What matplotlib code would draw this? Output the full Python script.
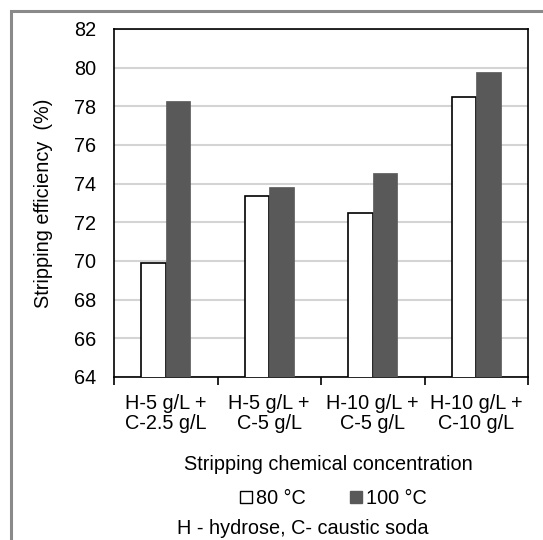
import matplotlib
matplotlib.use("Agg")
import matplotlib.pyplot as plt
import numpy as np
from matplotlib.lines import Line2D
from matplotlib.patches import Rectangle

categories = ["H-5 g/L +\nC-2.5 g/L", "H-5 g/L +\nC-5 g/L", "H-10 g/L +\nC-5 g/L", "H-10 g/L +\nC-10 g/L"]
series_names = ["80 °C", "100 °C"]
values_80 = [69.9, 73.37, 72.47, 78.5]
values_100 = [78.27, 73.82, 74.55, 79.8]
yticks = [64, 66, 68, 70, 72, 74, 76, 78, 80, 82]

plt.rcParams['font.family'] = ['Liberation Sans', 'DejaVu Sans']
FS = 14.3
W, H = 543, 540
fig = plt.figure(figsize=(W/100, H/100), dpi=100)
ax = fig.add_axes([114/W, 1-377/H, (528-114)/W, (377-29)/H])

x = np.arange(len(categories))
bw = 0.235
ax.bar(x - bw/2, values_80, bw, color='white', edgecolor='black', linewidth=1.2, zorder=3)
ax.bar(x + bw/2, values_100, bw, color='#595959', edgecolor='#595959', linewidth=0.5, zorder=3)

ax.set_ylim(64, 82)
ax.set_yticks(yticks)
ax.set_xlim(-0.5, len(categories) - 0.5)
ax.set_xticks(x)
ax.set_xticklabels(categories, fontsize=FS, linespacing=1.12)
ax.set_xticks(np.arange(-0.5, len(categories), 1.0), minor=True)
ax.tick_params(axis='x', which='major', length=0, pad=12)
ax.tick_params(axis='x', which='minor', length=6, width=1.2, direction='out')
ax.tick_params(axis='y', length=0, pad=13, labelsize=FS)
ax.grid(axis='y', color='#d4d4d4', linewidth=1.5, zorder=0)
ax.set_axisbelow(True)
for s in ax.spines.values():
    s.set_color('black')
    s.set_linewidth(1.2)

ax.set_ylabel("Stripping efficiency  (%)", fontsize=FS, labelpad=15)
fig.text(328/W, 1-464/H, "Stripping chemical concentration", ha='center', va='center', fontsize=FS)

handles = [
    Line2D([], [], marker='s', linestyle='none', markersize=8.2, markerfacecolor='white', markeredgecolor='black', markeredgewidth=1.0),
    Line2D([], [], marker='s', linestyle='none', markersize=8.2, markerfacecolor='#595959', markeredgecolor='#595959'),
]
fig.legend(handles, series_names, loc='center', bbox_to_anchor=(333/W, 1-498/H), ncol=2, frameon=False,
           fontsize=FS, handlelength=0.7, handletextpad=0.15, columnspacing=2.2, borderpad=0)
fig.text(303/W, 1-528/H, "H - hydrose, C- caustic soda", ha='center', va='center', fontsize=FS)

fig.patches.append(Rectangle((11/W, -0.2), 1.5, 1.2 - 11/H, transform=fig.transFigure,
                             fill=False, edgecolor='#8a8a8a', linewidth=2.2))

fig.savefig("out.png", dpi=100)
